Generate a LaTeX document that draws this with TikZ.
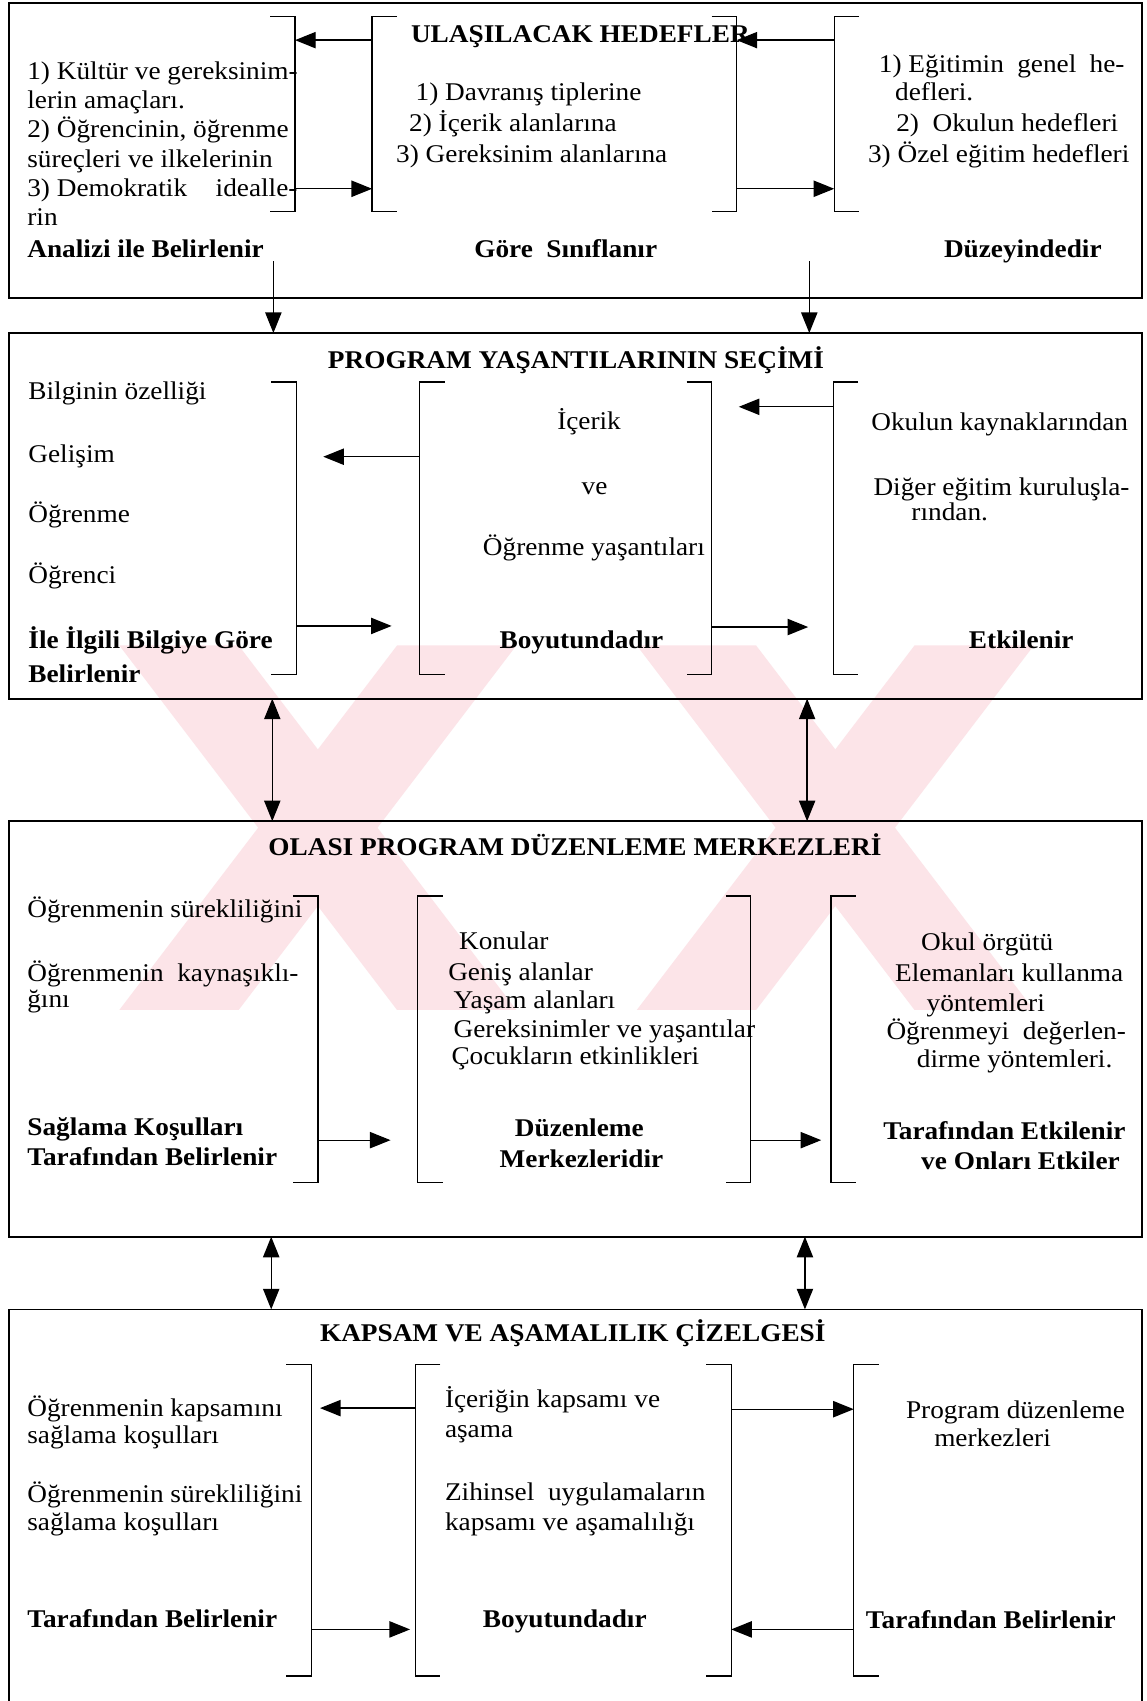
\documentclass[tikz,border=0pt]{standalone}
\usepackage{fontspec}
\setmainfont{Liberation Serif}[FakeStretch=1.07]
\usetikzlibrary{arrows.meta}
\definecolor{wmark}{RGB}{252,228,232}
\newcommand{\dfont}{\fontsize{23.5}{27}\selectfont}
\tikzset{
  box/.style={draw, line width=1.6pt},
  brk/.style={line width=1.2pt},
  arr/.style={line width=1.2pt, -{Triangle[length=19pt,width=15pt]}},
  darr/.style={line width=1.2pt, {Triangle[length=19pt,width=15pt]}-{Triangle[length=19pt,width=15pt]}},
  t/.style={anchor=base west, inner sep=0pt, font=\dfont},
  tb/.style={anchor=base west, inner sep=0pt, font=\dfont\bfseries},
  tc/.style={anchor=base, inner sep=0pt, font=\dfont},
  tcb/.style={anchor=base, inner sep=0pt, font=\dfont\bfseries},
  wm/.style={fill=wmark, draw=none},
}
\newcommand{\BrR}[4]{%
  \coordinate (#1t) at (#2,#3); \coordinate (#1b) at (#2,#4);
  \draw[brk] ([xshift=-23pt]#1t) -- (#1t) -- (#1b) -- ([xshift=-23pt]#1b);}
\newcommand{\BrL}[4]{%
  \coordinate (#1t) at (#2,#3); \coordinate (#1b) at (#2,#4);
  \draw[brk] ([xshift=23pt]#1t) -- (#1t) -- (#1b) -- ([xshift=23pt]#1b);}
\begin{document}
\begin{tikzpicture}[x=1pt,y=-1pt]
\useasboundingbox[fill=white] (0,0) rectangle (1057,1568);

% ---------------- faint watermark ----------------
\fill[wm] (110,595) -- (220,595) -- (476,931) -- (366,931) -- cycle;
\fill[wm] (366,595) -- (476,595) -- (220,931) -- (110,931) -- cycle;
\fill[wm] (587,595) -- (697,595) -- (953,931) -- (843,931) -- cycle;
\fill[wm] (843,595) -- (953,595) -- (697,931) -- (587,931) -- cycle;

% ---------------- Box 1 ----------------
\draw[box] (8,3) rectangle (1053,275);
\node[tcb] (title1) at (535,39) {ULAŞILACAK HEDEFLER};
\BrR{L1}{272}{15}{195}
\BrL{C1l}{343}{15}{195}
\BrR{C1r}{679}{15}{195}
\BrL{R1}{769}{15}{195}
\coordinate (a11s) at (343,37); \coordinate (a11e) at (272,37);
\coordinate (a12s) at (272,174); \coordinate (a12e) at (343,174);
\coordinate (a13s) at (769,37); \coordinate (a13e) at (679,37);
\coordinate (a14s) at (679,174); \coordinate (a14e) at (769,174);
\draw[arr] (a11s) -- (a11e);
\draw[arr] (a12s) -- (a12e);
\draw[arr] (a13s) -- (a13e);
\draw[arr] (a14s) -- (a14e);

\node[t] (b1l1) at (25,73) {1) Kültür ve gereksinim-};
\node[t] (b1l2) at (25,100) {lerin amaçları.};
\node[t] (b1l3) at (25,127) {2) Öğrencinin, öğrenme};
\node[t] (b1l4) at (25,154) {süreçleri ve ilkelerinin};
\node[t] (b1l5) at (25,181) {3) Demokratik\hspace{20pt} idealle-};
\node[t] (b1l6) at (25,208) {rin};
\node[tb] (b1l7) at (25,237) {Analizi ile Belirlenir};

\node[t] (b1c1) at (383,93) {1) Davranış tiplerine};
\node[t] (b1c2) at (377,121) {2) İçerik alanlarına};
\node[t] (b1c3) at (365,150) {3) Gereksinim alanlarına};
\node[tb] (b1c4) at (437,237) {Göre\ \ Sınıflanır};

\node[t] (b1r1) at (810,67) {1) Eğitimin\hspace{6pt} genel\hspace{6pt} he-};
\node[t] (b1r2) at (825,93) {defleri.};
\node[t] (b1r3) at (826,121) {2)\ \ Okulun hedefleri};
\node[t] (b1r4) at (800,150) {3) Özel eğitim hedefleri};
\node[tb] (b1r5) at (870,237) {Düzeyindedir};

% down arrows 1 -> 2
\coordinate (d1s) at (252,241); \coordinate (d1e) at (252,307);
\coordinate (d2s) at (746,241); \coordinate (d2e) at (746,307);
\draw[arr] (d1s) -- (d1e);
\draw[arr] (d2s) -- (d2e);

% ---------------- Box 2 ----------------
\draw[box] (8,307) rectangle (1053,644);
\node[tcb] (title2) at (531,340) {PROGRAM YAŞANTILARININ SEÇİMİ};
\BrR{L2}{273}{352}{622}
\BrL{C2l}{387}{352}{622}
\BrR{C2r}{656}{352}{622}
\BrL{R2}{768}{352}{622}
\coordinate (a21s) at (387,421); \coordinate (a21e) at (298,421);
\coordinate (a22s) at (273,577); \coordinate (a22e) at (361,577);
\coordinate (a23s) at (768,375); \coordinate (a23e) at (681,375);
\coordinate (a24s) at (656,578); \coordinate (a24e) at (745,578);
\draw[arr] (a21s) -- (a21e);
\draw[arr] (a22s) -- (a22e);
\draw[arr] (a23s) -- (a23e);
\draw[arr] (a24s) -- (a24e);

\node[t] (b2l1) at (26,368) {Bilginin özelliği};
\node[t] (b2l2) at (26,426) {Gelişim};
\node[t] (b2l3) at (26,482) {Öğrenme};
\node[t] (b2l4) at (26,538) {Öğrenci};
\node[tb] (b2l5) at (26,598) {İle İlgili Bilgiye Göre};
\node[tb] (b2l6) at (26,629) {Belirlenir};

\node[tc] (b2c1) at (543,396) {İçerik};
\node[tc] (b2c2) at (548,456) {ve};
\node[t] (b2c3) at (445,512) {Öğrenme yaşantıları};
\node[tcb] (b2c4) at (536,598) {Boyutundadır};

\node[t] (b2r1) at (803,397) {Okulun kaynaklarından};
\node[t] (b2r2) at (805,457) {Diğer eğitim kuruluşla-};
\node[t] (b2r3) at (840,480) {rından.};
\node[tb] (b2r4) at (893,598) {Etkilenir};

% double arrows 2 <-> 3
\coordinate (e1s) at (251,644); \coordinate (e1e) at (251,757);
\coordinate (e2s) at (744,644); \coordinate (e2e) at (744,757);
\draw[darr] (e1s) -- (e1e);
\draw[darr] (e2s) -- (e2e);

% ---------------- Box 3 ----------------
\draw[box] (8,757) rectangle (1053,1140);
\node[tcb] (title3) at (530,789) {OLASI PROGRAM DÜZENLEME MERKEZLERİ};
\BrR{L3}{293}{826}{1090}
\BrL{C3l}{385}{826}{1090}
\BrR{C3r}{692}{826}{1090}
\BrL{R3}{766}{826}{1090}
\coordinate (a31s) at (293,1051); \coordinate (a31e) at (360,1051);
\coordinate (a32s) at (692,1051); \coordinate (a32e) at (757,1051);
\draw[arr] (a31s) -- (a31e);
\draw[arr] (a32s) -- (a32e);

\node[t] (b3l1) at (25,846) {Öğrenmenin sürekliliğini};
\node[t] (b3l2) at (25,905) {Öğrenmenin\ \ kaynaşıklı-};
\node[t] (b3l3) at (25,929) {ğını};
\node[tb] (b3l4) at (25,1047) {Sağlama Koşulları};
\node[tb] (b3l5) at (25,1074) {Tarafından Belirlenir};

\node[t] (b3c1) at (423,875) {Konular};
\node[t] (b3c2) at (413,904) {Geniş alanlar};
\node[t] (b3c3) at (418,930) {Yaşam alanları};
\node[t] (b3c4) at (418,956) {Gereksinimler ve yaşantılar};
\node[t] (b3c5) at (416,981) {Çocukların etkinlikleri};
\node[tcb] (b3c6) at (534,1048) {Düzenleme};
\node[tcb] (b3c7) at (536,1076) {Merkezleridir};

\node[t] (b3r1) at (849,876) {Okul örgütü};
\node[t] (b3r2) at (825,905) {Elemanları kullanma};
\node[t] (b3r3) at (854,932) {yöntemleri};
\node[t] (b3r4) at (817,958) {Öğrenmeyi\ \ değerlen-};
\node[t] (b3r5) at (845,984) {dirme yöntemleri.};
\node[tb] (b3r6) at (814,1050) {Tarafından Etkilenir};
\node[tb] (b3r7) at (849,1078) {ve Onları Etkiler};

% double arrows 3 <-> 4
\coordinate (f1s) at (250,1140); \coordinate (f1e) at (250,1207);
\coordinate (f2s) at (742,1140); \coordinate (f2e) at (742,1207);
\draw[darr] (f1s) -- (f1e);
\draw[darr] (f2s) -- (f2e);

% ---------------- Box 4 ----------------
\draw[line width=1.6pt] (8,1568) -- (8,1207) -- (1053,1207) -- (1053,1568);
\node[tcb] (title4) at (528,1237) {KAPSAM VE AŞAMALILIK ÇİZELGESİ};
\BrR{L4}{287}{1258}{1545}
\BrL{C4l}{383}{1258}{1545}
\BrR{C4r}{674}{1258}{1545}
\BrL{R4}{787}{1258}{1545}
\coordinate (a41s) at (383,1298); \coordinate (a41e) at (295,1298);
\coordinate (a42s) at (287,1502); \coordinate (a42e) at (378,1502);
\coordinate (a43s) at (674,1299); \coordinate (a43e) at (787,1299);
\coordinate (a44s) at (787,1502); \coordinate (a44e) at (674,1502);
\draw[arr] (a41s) -- (a41e);
\draw[arr] (a42s) -- (a42e);
\draw[arr] (a43s) -- (a43e);
\draw[arr] (a44s) -- (a44e);

\node[t] (b4l1) at (25,1306) {Öğrenmenin kapsamını};
\node[t] (b4l2) at (25,1331) {sağlama koşulları};
\node[t] (b4l3) at (25,1385) {Öğrenmenin sürekliliğini};
\node[t] (b4l4) at (25,1411) {sağlama koşulları};
\node[tb] (b4l5) at (25,1500) {Tarafından Belirlenir};

\node[t] (b4c1) at (410,1297) {İçeriğin kapsamı ve};
\node[t] (b4c2) at (410,1325) {aşama};
\node[t] (b4c3) at (410,1383) {Zihinsel\ \ uygulamaların};
\node[t] (b4c4) at (410,1411) {kapsamı ve aşamalılığı};
\node[tb] (b4c5) at (445,1500) {Boyutundadır};

\node[t] (b4r1) at (835,1308) {Program düzenleme};
\node[t] (b4r2) at (861,1333) {merkezleri};
\node[tb] (b4r3) at (798,1501) {Tarafından Belirlenir};
\end{tikzpicture}
\end{document}
